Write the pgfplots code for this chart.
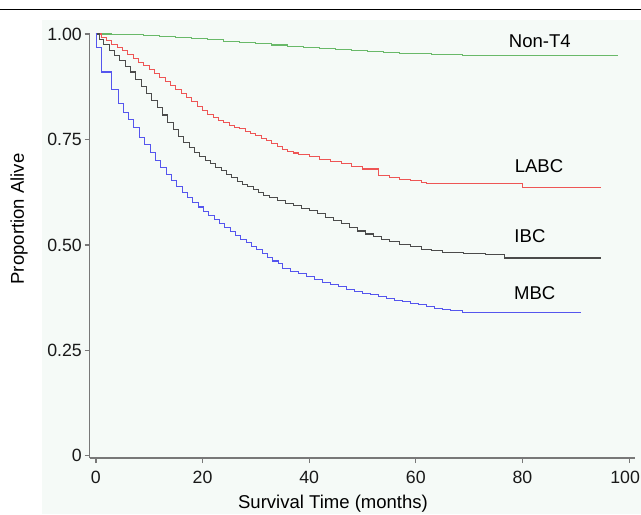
\documentclass[border=0pt]{standalone}
\usepackage{fontspec}
\setmainfont{Liberation Sans}
\usepackage{pgfplots}
\pgfplotsset{compat=1.18}

\definecolor{bgcol}{RGB}{245,250,247}
\definecolor{axgray}{RGB}{120,120,120}
\definecolor{cgreen}{RGB}{105,185,105}
\definecolor{cred}{RGB}{238,85,85}
\definecolor{cblue}{RGB}{85,85,238}
\definecolor{cblack}{RGB}{75,75,75}

% Kaplan-Meier estimates (months, proportion alive)
\pgfplotstableread{
t S
0 1.000
3 0.999
6 0.998
9 0.997
12 0.995
15 0.992
18 0.989
21 0.986
24 0.983
27 0.980
30 0.977
33 0.974
36 0.971
39 0.968
42 0.965
45 0.963
48 0.960
51 0.958
54 0.956
57 0.954
60 0.953
63 0.952
68.8 0.948
97.9 0.948
}\nonTfour

\pgfplotstableread{
t S
0 1.000
1 0.992
2 0.985
3 0.976
4 0.968
5 0.960
6 0.951
7 0.942
8 0.933
9 0.925
10 0.916
11 0.906
12 0.897
13 0.888
14 0.878
15 0.868
16 0.858
17 0.849
18 0.839
19 0.829
20 0.818
21 0.810
22 0.802
23 0.796
24 0.790
25 0.784
26 0.779
27 0.775
28 0.770
29 0.765
30 0.759
31 0.753
32 0.747
33 0.740
34 0.733
35 0.727
36 0.722
37 0.718
38 0.714
40 0.709
42 0.702
44 0.697
46 0.692
48 0.686
50 0.680
53 0.664
55 0.660
57 0.656
59 0.652
61 0.648
62 0.645
80 0.636
94.8 0.636
}\labc

\pgfplotstableread{
t S
0 1.000
0.75 0.986
1.5 0.975
2.5 0.962
3.5 0.950
4.5 0.938
5.5 0.924
6.5 0.910
7.5 0.893
8.5 0.876
9.5 0.860
10.5 0.843
11.5 0.825
12.5 0.808
13.5 0.790
14.5 0.773
15.5 0.757
16.5 0.742
17.5 0.730
18.5 0.720
19.5 0.710
20.5 0.701
21.5 0.692
22.5 0.684
23.5 0.676
24.5 0.668
25.5 0.659
26.5 0.651
27.5 0.644
28.5 0.638
29.5 0.631
30.5 0.624
31.5 0.618
32.5 0.612
34 0.605
35.5 0.598
37 0.593
38.5 0.587
40 0.581
41.5 0.574
43 0.566
44.5 0.558
46 0.550
47.5 0.542
49 0.533
50.5 0.526
52 0.519
53.5 0.513
55 0.508
57 0.502
59 0.496
61 0.490
63 0.486
65 0.483
67 0.481
69 0.480
73 0.478
76.7 0.469
94.8 0.469
}\ibc

\pgfplotstableread{
t S
0 1.000
0.1 0.967
1.1 0.910
2.9 0.869
4.2 0.836
5.1 0.815
6.1 0.797
7.1 0.778
8.2 0.754
9.2 0.737
10.2 0.719
11.2 0.701
12.2 0.684
13.2 0.668
14.2 0.652
15.2 0.638
16.2 0.625
17.2 0.613
18.2 0.600
19.2 0.590
20.2 0.580
21.2 0.570
22.2 0.560
23.2 0.551
24.2 0.541
25.2 0.531
26.2 0.522
27.2 0.514
28.2 0.506
29.2 0.497
30.2 0.490
31.2 0.479
32.2 0.470
33.2 0.462
34.2 0.455
35 0.445
36.5 0.438
38 0.432
39.5 0.426
41 0.418
42.5 0.412
44 0.407
45.5 0.401
47 0.395
48.5 0.390
50 0.386
51.5 0.382
53 0.378
54.5 0.373
56 0.369
57.5 0.365
59 0.361
60.5 0.358
62 0.354
63.5 0.350
65 0.347
66.5 0.345
68.8 0.339
90.9 0.339
}\mbc

\begin{document}
\begin{tikzpicture}[x=0.75pt,y=0.75pt]
\path[use as bounding box] (0,0) rectangle (641,514);
\fill[bgcol] (42,0) rectangle (641,494);
\draw[black,line width=1.1pt] (0,504.5) -- (641,504.5);

\begin{axis}[
    at={(67.125pt,42pt)}, anchor=south west,
    scale only axis,
    width=409.1pt, height=318.75pt,
    xmin=-1.2, xmax=101.1,
    ymin=-0.005, ymax=1.0024,
    axis x line*=bottom, axis y line*=left,
    axis line style={axgray, line width=0.9pt},
    tick align=outside,
    major tick length=3.75pt,
    tick style={axgray, line width=0.9pt},
    xtick={0,20,40,60,80,100},
    xticklabels={0,20,40,60,80,\hspace*{-6pt}100},
    ytick={0,0.25,0.5,0.75,1},
    yticklabels={0,0.25,0.50,0.75,1.00},
    ticklabel style={font=\fontsize{13.3}{16}\selectfont, text=black!90},
    xticklabel style={yshift=-2.5pt},
    yticklabel style={xshift=1.5pt},
    clip=false,
    every axis plot/.append style={const plot, mark=none, line width=0.8pt},
]
\addplot[cgreen] table {\nonTfour};
\addplot[cred] table {\labc};
\addplot[cblack] table {\ibc};
\addplot[cblue] table {\mbc};

\node[font=\fontsize{13.9}{16}\selectfont] at (axis cs:83.25,0.984) {Non-T4};
\node[font=\fontsize{13.9}{16}\selectfont] at (axis cs:83.1,0.686) {LABC};
\node[font=\fontsize{13.9}{16}\selectfont] at (axis cs:81.4,0.520) {IBC};
\node[font=\fontsize{13.9}{16}\selectfont] at (axis cs:82.3,0.386) {MBC};
\end{axis}

\node[font=\fontsize{13.9}{16}\selectfont] at (333,10) {Survival Time (months)};
\node[font=\fontsize{13.9}{16}\selectfont, rotate=90] at (19,295) {Proportion Alive};
\end{tikzpicture}
\end{document}
